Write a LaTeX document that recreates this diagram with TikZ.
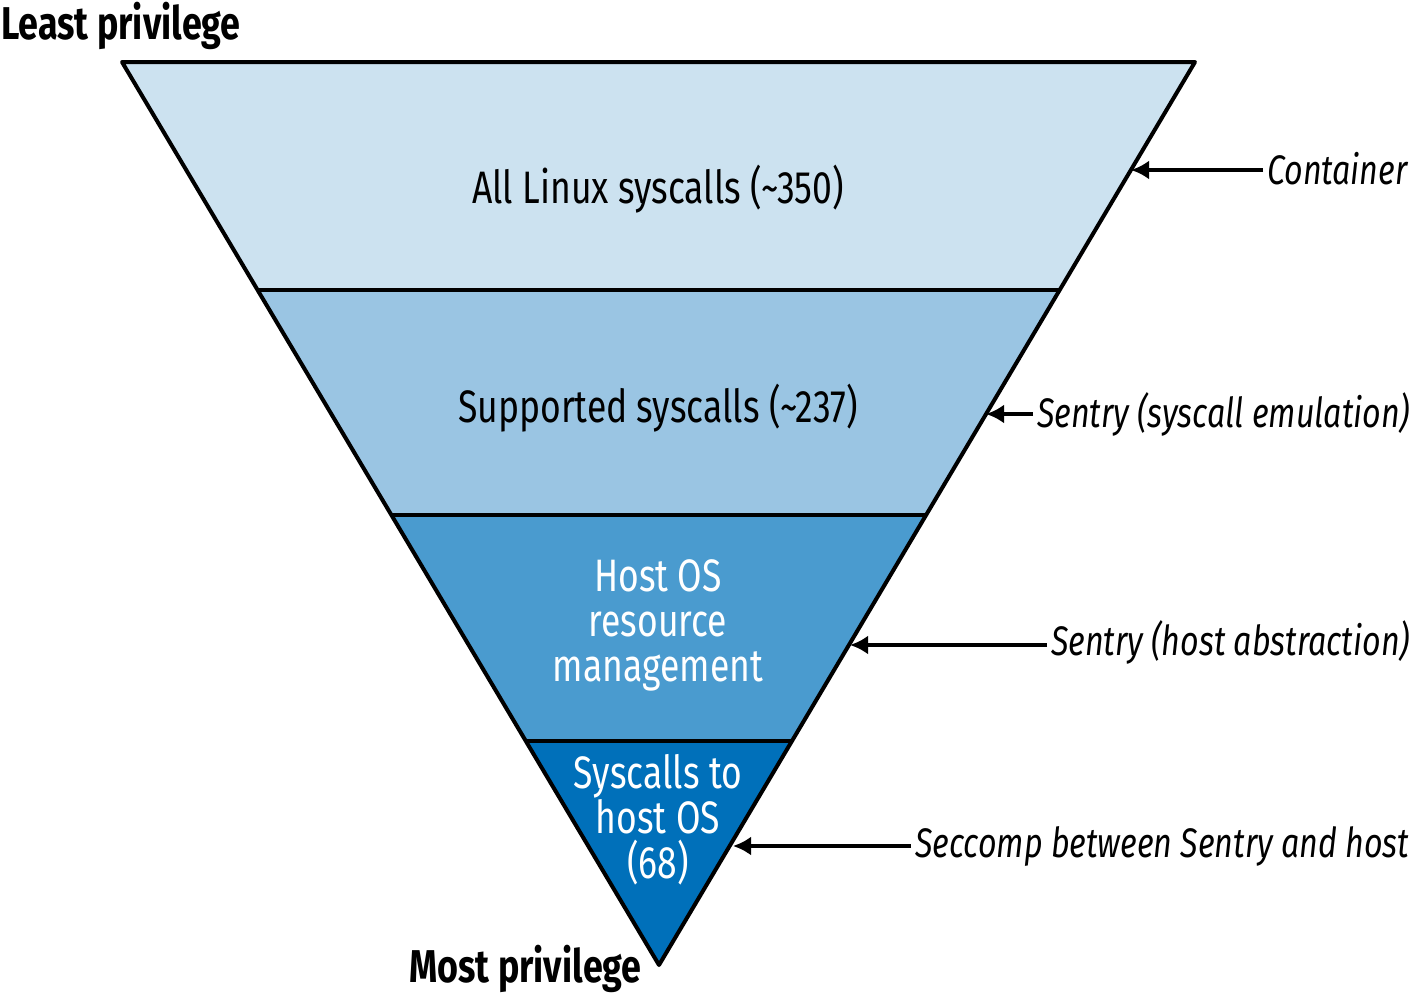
\documentclass[tikz,border=0pt]{standalone}
\usepackage{fontspec}
\setmainfont{Fira Sans}[FakeStretch=0.78]
\usetikzlibrary{arrows.meta}
\definecolor{bandA}{HTML}{CCE2F0}
\definecolor{bandB}{HTML}{9AC5E3}
\definecolor{bandC}{HTML}{4A9BCF}
\definecolor{bandD}{HTML}{0070BA}
\tikzset{
  bandtext/.style={font=\fontsize{45.5}{45}\selectfont, align=center, inner sep=0pt},
  sidelabel/.style={font=\fontsize{41.3}{44}\selectfont\itshape, anchor=west, inner ysep=0pt, inner xsep=4pt},
  endlabel/.style={font=\fontsize{46}{48}\selectfont\bfseries, inner sep=0pt},
  pointer/.style={line width=3.5pt, -{Latex[length=18pt,width=19pt]}},
  edge/.style={line width=4pt, line join=round}
}
\begin{document}
\begin{tikzpicture}[x=1pt,y=-1pt]
\useasboundingbox (0,0) rectangle (1411,993);
\coordinate (TL) at (122,62);
\coordinate (TR) at (1195,62);
\coordinate (B) at (659,965);
\coordinate (L1) at (257.6,290);
\coordinate (R1) at (1059.7,290);
\coordinate (L2) at (391.4,515);
\coordinate (R2) at (926,515);
\coordinate (L3) at (525.8,741);
\coordinate (R3) at (792,741);
\fill[bandA] (TL) -- (TR) -- (R1) -- (L1) -- cycle;
\fill[bandB] (L1) -- (R1) -- (R2) -- (L2) -- cycle;
\fill[bandC] (L2) -- (R2) -- (R3) -- (L3) -- cycle;
\fill[bandD] (L3) -- (R3) -- (B) -- cycle;
\draw[edge] (L1) -- (R1);
\draw[edge] (L2) -- (R2);
\draw[edge] (L3) -- (R3);
\draw[edge] (TL) -- (TR) -- (B) -- cycle;

\node[bandtext] (t1) at (658,189) {All Linux syscalls (\textasciitilde350)};
\node[bandtext] (t2) at (658,408) {Supported syscalls (\textasciitilde237)};
\node[bandtext, text=white] (t3) at (658,625) {Host OS\\resource\\management};
\node[bandtext, text=white] (t4) at (658,820) {Syscalls to\\host OS\\(68)};

\node[endlabel, anchor=west] (least) at (1,26) {Least privilege};
\node[endlabel, anchor=west] (most) at (409,969) {Most privilege};

\node[sidelabel] (s1) at (1263,169) {Container};
\node[sidelabel] (s2) at (1033,414) {Sentry (syscall emulation)};
\node[sidelabel] (s3) at (1047,642) {Sentry (host abstraction)};
\node[sidelabel] (s4) at (911,846) {Seccomp between Sentry and host};

\coordinate (p1) at (1131,170);
\coordinate (p2) at (986,414);
\coordinate (p3) at (850,645);
\coordinate (p4) at (733,846);
\draw[pointer] (s1.west |- p1) -- (p1);
\draw[pointer] (s2.west |- p2) -- (p2);
\draw[pointer] (s3.west |- p3) -- (p3);
\draw[pointer] (s4.west |- p4) -- (p4);
\end{tikzpicture}
\end{document}
